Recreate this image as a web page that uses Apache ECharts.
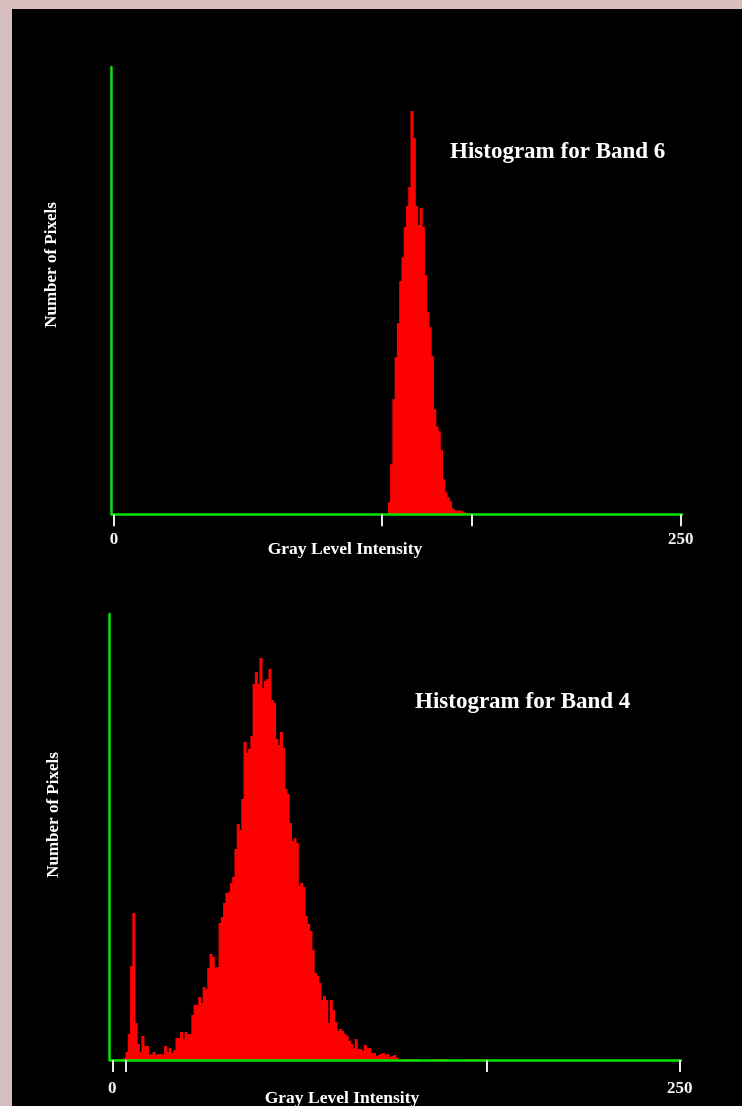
<!DOCTYPE html>
<html>
<head>
<meta charset="utf-8">
<script src="https://cdn.jsdelivr.net/npm/echarts@6/dist/echarts.min.js"></script>
<style>
html,body{margin:0;padding:0;background:#d8bfbf;width:742px;height:1106px;overflow:hidden;}
#chart{position:absolute;left:12px;top:9px;width:730px;height:1097px;background:#000;}
</style>
</head>
<body>
<div id="chart"></div>
<script>
// Gray-level range and tick marks
var axisMin = 0, axisMax = 250;
var band6Ticks = [0, 118, 158, 250];
var band4Ticks = [0, 6, 165, 250];
var tickLabels = [0, 250];

// Band 6 histogram: first gray level and counts (relative pixel counts)
var band6Start = 118;
var band6Counts = [1, 0, 0, 12, 50, 115, 157, 191, 233, 257, 287, 308, 327, 403, 376, 308, 289, 306, 287, 239,
  202, 187, 158, 105, 88, 83, 64, 35, 22, 17, 13, 6, 4, 3, 4, 3, 2, 1.5, 1, 1];

// Band 4 histogram
var band4Start = 5;
var band4Counts = [2, 8, 26, 94, 147, 37, 16, 8, 24, 14, 14, 5, 6, 8, 5, 6, 6, 5, 14, 8,
  12, 7, 10, 22, 22, 28, 21, 28, 26, 26, 45, 55, 55, 63, 57, 73, 71, 92, 106, 103,
  92, 93, 137, 143, 157, 167, 168, 177, 183, 211, 236, 230, 261, 318, 307, 311, 324, 376, 388, 376,
  402, 372, 379, 381, 391, 360, 357, 321, 315, 328, 312, 271, 266, 237, 219, 222, 217, 174, 177, 173,
  144, 136, 129, 110, 87, 84, 77, 60, 64, 60, 37, 60, 50, 38, 29, 31, 29, 26, 24, 19,
  16, 12, 21, 11, 11, 9, 15, 12, 12, 7, 7, 4, 5, 6, 7, 5, 6, 3, 4, 5,
  2, 0, 0, 1, 1, 1, 0, 1, 1, 1, 0, 0, 0, 0, 0, 0, 1, 1, 0, 1,
  1, 1, 1, 0, 0, 0, 0, 0, 0, 0, 1, 1, 0, 1, 1, 0, 1, 1, 0, 1];

var titles = ['Histogram for Band 6', 'Histogram for Band 4'];
var xName = 'Gray Level Intensity';
var yName = 'Number of Pixels';

function toPairs(start, counts) {
  var out = [];
  for (var i = 0; i < counts.length; i++) {
    if (counts[i] > 0) out.push([start + i, counts[i]]);
  }
  return out;
}

var GREEN = '#00e600';
var FONT = 'Liberation Serif';

function renderBin(params, api) {
  var v = api.value(0), h = api.value(1);
  var p0 = api.coord([v, 0]);
  var p1 = api.coord([v + 1, h]);
  return {
    type: 'rect',
    shape: { x: p0[0] - 0.4, y: p1[1], width: p1[0] - p0[0] + 0.8, height: p0[1] - p1[1] },
    style: { fill: '#ff0000', stroke: null }
  };
}

function xAxisCfg(gridIndex, min, ticks, margin) {
  return {
    type: 'value', gridIndex: gridIndex, min: min, max: 250.6, z: 5,
    axisLine: { show: true, lineStyle: { color: GREEN, width: 2.5 } },
    axisTick: { show: true, customValues: ticks, length: 12, lineStyle: { color: '#e8e8e8', width: 2 } },
    axisLabel: { show: true, customValues: tickLabels, margin: margin, color: '#f0f0f0',
      fontFamily: FONT, fontSize: 17, fontWeight: 'bold' },
    splitLine: { show: false }
  };
}
function yAxisCfg(gridIndex, max) {
  return {
    type: 'value', gridIndex: gridIndex, min: 0, max: max, z: 5,
    axisLine: { show: true, onZero: false, lineStyle: { color: GREEN, width: 2.5 } },
    axisTick: { show: false }, axisLabel: { show: false }, splitLine: { show: false }
  };
}
function txt(x, y, text, size, align, rot) {
  return {
    type: 'text', x: x, y: y, rotation: rot || 0, z: 10,
    style: { text: text, fill: '#ffffff', font: 'bold ' + size + 'px "' + FONT + '"',
      textAlign: align, textVerticalAlign: 'middle' }
  };
}

var chart = echarts.init(document.getElementById('chart'), null, { renderer: 'canvas' });
chart.setOption({
  backgroundColor: '#000000',
  animation: false,
  grid: [
    { left: 99.7, top: 58, width: 570.3, height: 447.3 },
    { left: 97.7, top: 605, width: 571.3, height: 446 }
  ],
  xAxis: [xAxisCfg(0, -1, band6Ticks, 17), xAxisCfg(1, -1.15, band4Ticks, 20)],
  yAxis: [yAxisCfg(0, 447), yAxisCfg(1, 446)],
  series: [
    { type: 'custom', xAxisIndex: 0, yAxisIndex: 0, renderItem: renderBin,
      encode: { x: 0, y: 1 }, data: toPairs(band6Start, band6Counts), z: 2 },
    { type: 'custom', xAxisIndex: 1, yAxisIndex: 1, renderItem: renderBin,
      encode: { x: 0, y: 1 }, data: toPairs(band4Start, band4Counts), z: 2 }
  ],
  graphic: [
    txt(438, 143, titles[0], 23, 'left'),
    txt(403, 693, titles[1], 23, 'left'),
    txt(333, 540, xName, 17.5, 'center'),
    txt(330, 1089, xName, 17.5, 'center'),
    txt(40, 256, yName, 17, 'center', Math.PI / 2),
    txt(42, 806, yName, 17, 'center', Math.PI / 2)
  ]
});
</script>
</body>
</html>
